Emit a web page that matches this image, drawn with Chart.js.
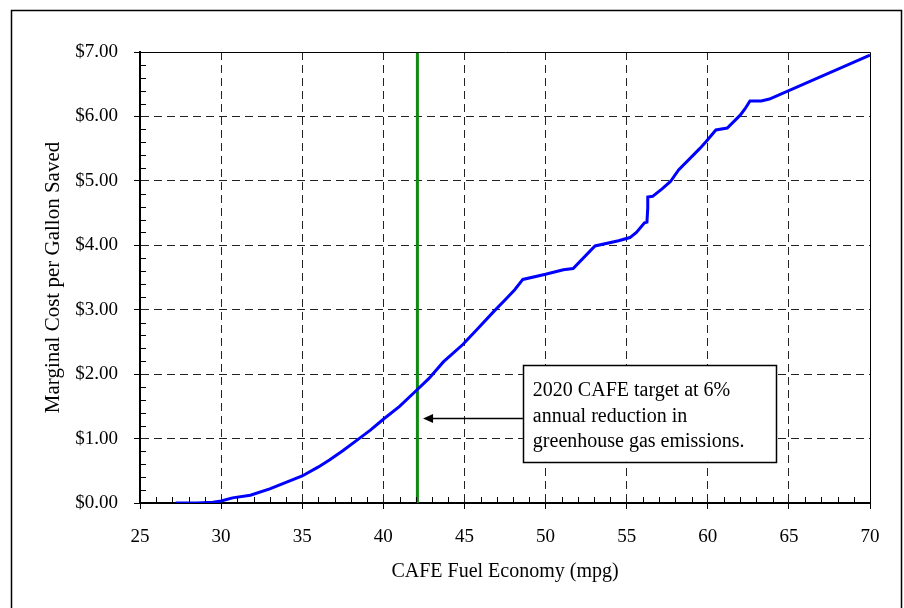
<!DOCTYPE html>
<html>
<head>
<meta charset="utf-8">
<script src="https://cdn.jsdelivr.net/npm/chart.js@4"></script>
<style>
  body { margin: 0; background: #fff; }
  #chart { display: block; }
</style>
</head>
<body>
<canvas id="chart" width="904" height="608"></canvas>
<script>
// fuel economy (mpg) and marginal cost per gallon saved ($)
const mpg = [27.2, 28.5, 29.5, 30.0, 30.7, 31.8, 33.0, 34.0, 35.0, 36.0, 36.7, 37.5, 38.4, 39.2, 40.0,
  41.0, 42.05, 42.8, 43.7, 44.9, 45.8, 46.8, 47.5, 48.1, 48.6, 50.0, 51.1, 51.7, 53.05, 54.5,
  55.2, 55.6, 56.1, 56.25, 56.3, 56.3, 56.6, 57.2, 57.7, 58.2, 59.5, 59.9, 60.5, 61.2, 62.0,
  62.3, 62.6, 63.3, 63.8, 70.0];
const cost = [0, 0, 0.01, 0.03, 0.08, 0.12, 0.22, 0.32, 0.42, 0.56, 0.67, 0.81, 0.98, 1.13, 1.30,
  1.50, 1.75, 1.93, 2.19, 2.46, 2.70, 2.97, 3.15, 3.31, 3.47, 3.55, 3.62, 3.64, 3.99, 4.07,
  4.12, 4.20, 4.35, 4.36, 4.58, 4.75, 4.76, 4.88, 4.99, 5.17, 5.50, 5.61, 5.79, 5.82, 6.02,
  6.12, 6.24, 6.24, 6.27, 6.95];

const targetMpg = 42.1;
const xTicks = [25, 30, 35, 40, 45, 50, 55, 60, 65, 70];
const yTicks = [0, 1, 2, 3, 4, 5, 6, 7];

const noteLines = ['2020 CAFE target at 6%', 'annual reduction in', 'greenhouse gas emissions.'];

const serif = "'Liberation Serif', 'Times New Roman', serif";

// frame, minor ticks, note box + arrow
const extras = {
  id: 'extras',
  beforeDraw(chart) {
    const ctx = chart.ctx;
    ctx.save();
    ctx.fillStyle = '#fff';
    ctx.fillRect(0, 0, chart.width, chart.height);
    ctx.strokeStyle = '#000';
    ctx.lineWidth = 1.5;
    ctx.strokeRect(11.5, 10.5, 890, 640);
    ctx.restore();
  },
  afterDatasetsDraw(chart) {
    const ctx = chart.ctx;
    const a = chart.chartArea;
    const xs = chart.scales.x, ys = chart.scales.y;
    ctx.save();
    ctx.strokeStyle = '#000';
    ctx.lineWidth = 1;
    ctx.beginPath();
    // top and right frame
    ctx.moveTo(a.left, a.top + 0.5);
    ctx.lineTo(a.right + 0.5, a.top + 0.5);
    ctx.lineTo(a.right + 0.5, a.bottom);
    // minor ticks
    for (let v = 26; v < 70; v++) {
      if (v % 5 == 0) continue;
      const px = Math.round(xs.getPixelForValue(v)) + 0.5;
      ctx.moveTo(px, a.bottom);
      ctx.lineTo(px, a.bottom - 6);
    }
    for (let i = 1; i < 35; i++) {
      if (i % 5 == 0) continue;
      const py = Math.round(ys.getPixelForValue(i * 0.2)) + 0.5;
      ctx.moveTo(a.left, py);
      ctx.lineTo(a.left + 6, py);
    }
    ctx.stroke();

    // note box
    const bx1 = xs.getPixelForValue(48.6), bx2 = xs.getPixelForValue(64.2);
    const by1 = ys.getPixelForValue(2.14), by2 = ys.getPixelForValue(0.64);
    ctx.fillStyle = '#fff';
    ctx.fillRect(bx1, by1, bx2 - bx1, by2 - by1);
    ctx.lineWidth = 1.5;
    ctx.strokeRect(Math.round(bx1) + 0.5, Math.round(by1) + 0.5, Math.round(bx2 - bx1), Math.round(by2 - by1));
    ctx.fillStyle = '#000';
    ctx.font = '20px ' + serif;
    ctx.textBaseline = 'middle';
    ctx.textAlign = 'left';
    noteLines.forEach((t, i) => ctx.fillText(t, bx1 + 10, by1 + 26 + i * 25.5));

    // arrow
    const ay = ys.getPixelForValue(1.31);
    const tip = xs.getPixelForValue(42.45);
    ctx.lineWidth = 1.5;
    ctx.beginPath();
    ctx.moveTo(bx1, ay);
    ctx.lineTo(tip + 6, ay);
    ctx.stroke();
    ctx.beginPath();
    ctx.moveTo(tip, ay);
    ctx.lineTo(tip + 10, ay - 4.5);
    ctx.lineTo(tip + 10, ay + 4.5);
    ctx.closePath();
    ctx.fill();
    ctx.restore();
  }
};

new Chart(document.getElementById('chart'), {
  type: 'scatter',
  data: {
    datasets: [{
      data: mpg.map((m, i) => ({x: m, y: cost[i]})),
      showLine: true,
      borderColor: '#0000ff',
      borderWidth: 3,
      pointRadius: 0,
      tension: 0
    }, {
      data: [{x: targetMpg, y: 0}, {x: targetMpg, y: 7}],
      showLine: true,
      borderColor: '#118a11',
      borderWidth: 3,
      pointRadius: 0
    }]
  },
  options: {
    responsive: false,
    animation: false,
    events: [],
    layout: { padding: { left: 11, top: 52, right: 34, bottom: 0 } },
    plugins: {
      legend: { display: false },
      tooltip: { enabled: false }
    },
    scales: {
      x: {
        type: 'linear',
        min: 25,
        max: 70,
        afterFit: (s) => { s.height = 105; },
        afterBuildTicks: (s) => { s.ticks = xTicks.map(v => ({value: v})); },
        ticks: {
          color: '#000',
          padding: 17,
          maxRotation: 0,
          font: { family: serif, size: 19 }
        },
        grid: {
          color: (c) => (c.tick && (c.tick.value == 25 || c.tick.value == 70)) ? 'rgba(0,0,0,0)' : '#222',
          lineWidth: 1,
          tickLength: 6,
          tickColor: '#000',
          tickBorderDash: []
        },
        border: { display: true, color: '#000', width: 2, dash: [8, 5] },
        title: {
          display: true,
          text: 'CAFE Fuel Economy (mpg)',
          color: '#000',
          font: { family: serif, size: 20 },
          padding: { top: 0, bottom: 24 }
        }
      },
      y: {
        min: 0,
        max: 7,
        afterFit: (s) => { s.width = 129; },
        afterBuildTicks: (s) => { s.ticks = yTicks.map(v => ({value: v})); },
        ticks: {
          color: '#000',
          padding: 16,
          font: { family: serif, size: 19 },
          callback: (v) => '$' + Number(v).toFixed(2)
        },
        grid: {
          color: (c) => (c.tick && (c.tick.value == 0 || c.tick.value == 7)) ? 'rgba(0,0,0,0)' : '#222',
          lineWidth: 1,
          tickLength: 6,
          tickColor: '#000',
          tickBorderDash: []
        },
        border: { display: true, color: '#000', width: 2, dash: [8, 5] },
        title: {
          display: true,
          text: 'Marginal Cost per Gallon Saved',
          color: '#000',
          font: { family: serif, size: 21 },
          padding: { top: 30, bottom: 0 }
        }
      }
    }
  },
  plugins: [extras]
});
</script>
</body>
</html>
